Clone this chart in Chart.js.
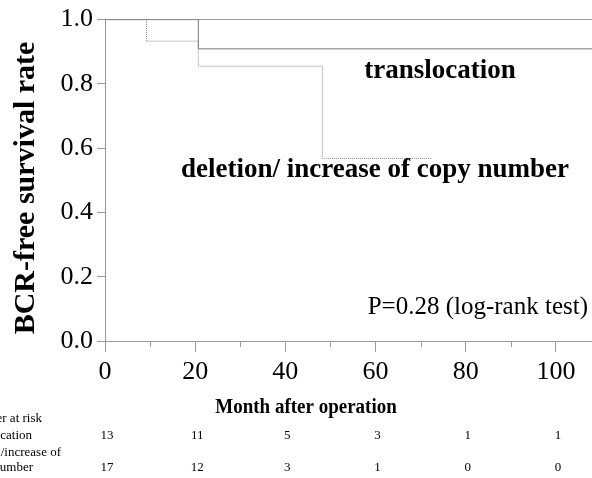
<!DOCTYPE html>
<html>
<head>
<meta charset="utf-8">
<script src="https://cdn.jsdelivr.net/npm/chart.js@4.4.0/dist/chart.umd.min.js"></script>
<style>
  html, body { margin: 0; padding: 0; background: #fff; }
  canvas { display: block; }
</style>
</head>
<body>
<canvas id="kmChart" width="592" height="478"></canvas>
<script>
// Kaplan-Meier steps (month of event, survival after it)
var transMonths = [0, 20.7, 108];
var transSurv = [1.0, 0.909, 0.909];
var delMonths = [0, 9.2, 20.7, 48.2, 72.3];
var delSurv = [1.0, 0.933, 0.855, 0.568, 0.568];

// number at risk table
var riskMonths = [0, 20, 40, 60, 80, 100];
var riskTrans = [13, 11, 5, 3, 1, 1];
var riskDel = [17, 12, 3, 1, 0, 0];
var riskLabels = ["Number at risk", "translocation", "deletion/increase of", "copy number"];

var minorMonths = [10, 30, 50, 70, 90];

var serif = "'Liberation Serif', 'Times New Roman', serif";
var axisGrey = "#9a9a9a";

function toPoints(xs, ys) {
  var pts = [];
  for (var i = 0; i < xs.length; i++) pts.push({ x: xs[i], y: ys[i] });
  return pts;
}

var extras = {
  id: "extras",
  afterDraw: function (chart) {
    var ctx = chart.ctx;
    var xs = chart.scales.x;
    var area = chart.chartArea;
    ctx.save();

    // minor ticks on the month axis
    ctx.strokeStyle = axisGrey;
    ctx.lineWidth = 1;
    minorMonths.forEach(function (m) {
      var px = Math.round(xs.getPixelForValue(m)) + 0.5;
      ctx.beginPath();
      ctx.moveTo(px, area.bottom);
      ctx.lineTo(px, area.bottom + 6);
      ctx.stroke();
    });

    ctx.fillStyle = "#000";

    // y title
    ctx.save();
    ctx.translate(34, 188);
    ctx.rotate(-Math.PI / 2);
    ctx.font = "bold 30px " + serif;
    ctx.textAlign = "center";
    ctx.textBaseline = "alphabetic";
    ctx.fillText("BCR-free survival rate", 0, 0);
    ctx.restore();

    // curve labels
    ctx.font = "bold 27px " + serif;
    ctx.textAlign = "center";
    ctx.textBaseline = "alphabetic";
    ctx.fillText("translocation", 440, 78);
    ctx.fillText("deletion/ increase of copy number", 375, 177);

    ctx.font = "25px " + serif;
    ctx.textAlign = "right";
    ctx.fillText("P=0.28 (log-rank test)", 588, 314);

    // x title (a little taller than wide, like the original)
    ctx.save();
    ctx.translate(306, 413);
    ctx.scale(1, 1.15);
    ctx.font = "bold 19px " + serif;
    ctx.textAlign = "center";
    ctx.fillText("Month after operation", 0, 0);
    ctx.restore();

    // risk table
    ctx.font = "13px " + serif;
    ctx.textBaseline = "middle";
    var rowY = [419, 436, 453, 468];
    var ends = [42, 32, 61, 33];
    ctx.textAlign = "right";
    for (var i = 0; i < riskLabels.length; i++) {
      ctx.fillText(riskLabels[i], ends[i], rowY[i]);
    }
    ctx.textAlign = "center";
    riskMonths.forEach(function (m, i) {
      var px = xs.getPixelForValue(m);
      ctx.fillText(String(riskTrans[i]), px + 2, rowY[1]);
      ctx.fillText(String(riskDel[i]), px + 2, rowY[3]);
    });
    ctx.restore();
  }
};

var ctx = document.getElementById("kmChart").getContext("2d");
var kmChart = new Chart(ctx, {
  type: "line",
  data: {
    datasets: [
      {
        label: "translocation",
        data: toPoints(transMonths, transSurv),
        borderColor: "#7a7a7a",
        borderWidth: 1,
        stepped: "before",
        fill: false,
        pointRadius: 0
      },
      {
        label: "deletion/ increase of copy number",
        data: toPoints(delMonths, delSurv),
        borderColor: "#8a8a8a",
        borderWidth: 1,
        borderDash: [1, 1],
        stepped: "before",
        fill: false,
        pointRadius: 0
      }
    ]
  },
  options: {
    responsive: false,
    animation: false,
    layout: { padding: { top: 18, right: 0, bottom: 0, left: 0 } },
    plugins: {
      legend: { display: false },
      tooltip: { enabled: false }
    },
    scales: {
      x: {
        type: "linear",
        position: "bottom",
        min: 0,
        max: 108,
        afterFit: function (s) { s.height = 137; },
        border: { display: true, color: axisGrey, width: 1 },
        grid: { display: true, drawOnChartArea: false, tickLength: 11, color: axisGrey },
        ticks: {
          stepSize: 20,
          includeBounds: false,
          maxRotation: 0,
          padding: 5,
          color: "#000",
          font: { family: serif, size: 26 }
        }
      },
      x2: {
        type: "linear",
        position: "top",
        min: 0,
        max: 108,
        afterFit: function (s) { s.height = 0; },
        border: { display: true, color: axisGrey, width: 1 },
        grid: { display: false },
        ticks: { display: false }
      },
      y: {
        min: 0,
        max: 1,
        afterFit: function (s) { s.width = 105; },
        border: { display: true, color: axisGrey, width: 1 },
        grid: { display: true, drawOnChartArea: false, tickLength: 8, color: axisGrey },
        ticks: {
          stepSize: 0.1,
          padding: 4,
          color: "#000",
          font: { family: serif, size: 26 },
          callback: function (v) {
            var t = Math.round(v * 10);
            return t % 2 === 0 ? (t / 10).toFixed(1) : "";
          }
        }
      }
    }
  },
  plugins: [extras]
});
</script>
</body>
</html>
